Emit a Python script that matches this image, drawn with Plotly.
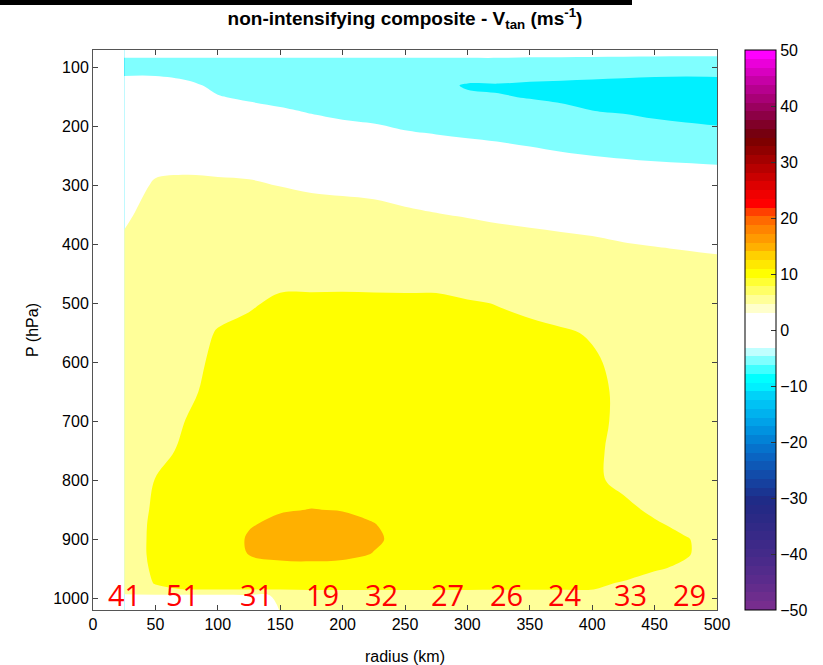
import plotly.graph_objects as go

# Radial grid (km) and pressure levels (hPa) of the composite
radius_km = [25, 50, 75, 100, 125, 150, 175, 200, 225, 250,
             275, 300, 325, 350, 375, 400, 425, 450, 475, 500]
pressure_hpa = [70, 90, 110, 130, 150, 175, 200, 225, 250, 275, 300,
                350, 400, 450, 500, 550, 600, 650, 700, 750, 800,
                850, 875, 900, 925, 950, 975, 985, 995, 1020]

# Tangential wind (m/s), one row per pressure level, one column per radius
vtan = [
    [2, 2, 2, 2, 2, 2, 2, 2, 2, 2, 2, 2, 2, 2, 2, 2, 2, 2, 2, 2],
    [-1, -1, -1, -1, -1, -1, -1, -1, -1, -1, -1, -1, -1, -1.2, -1.3, -1.4, -1.5, -1.6, -1.7, -1.8],
    [-0.6, -0.5, -1, -1.5, -1.8, -2, -2, -2, -2.2, -2.3, -2.5, -3, -3.3, -3.6, -3.8, -4, -4.2, -4.4, -4.5, -4.3],
    [2.4, 2, 0.8, -0.8, -1.5, -2, -2.3, -2.5, -2.7, -3, -3.8, -5.4, -5.3, -5.6, -5.8, -6, -6.2, -6.4, -6.6, -6.8],
    [2.6, 2.5, 2.2, 0.2, -0.5, -1.2, -1.8, -2.2, -2.5, -2.9, -3.5, -4.3, -4.85, -5.1, -5.5, -5.9, -6.2, -6.5, -6.7, -6.9],
    [2.8, 3, 3, 1.8, 1.2, 0.6, -0.2, -0.8, -1.5, -2.1, -2.6, -3, -3.5, -4.2, -4.3, -4.9, -5.2, -5.7, -6, -6.3],
    [3, 3.4, 3.5, 2.8, 2.5, 2, 1.3, 0.7, 0.4, -0.4, -1, -1.5, -1.8, -2.3, -2.7, -3.1, -3.5, -4.2, -4.6, -4.9],
    [3.2, 3.8, 4, 3.6, 3.4, 3, 2.5, 2, 1.7, 1.2, 0.9, 0.4, -0.05, -0.6, -1.2, -1.6, -1.9, -2.2, -2.5, -2.7],
    [3.4, 4.2, 4.4, 4.2, 4.1, 3.8, 3.4, 3, 2.8, 2.4, 2.2, 1.8, 1.5, 1.1, 0.5, 0.05, -0.3, -0.6, -0.8, -1],
    [3.6, 4.7, 4.85, 4.75, 4.6, 4.4, 4, 3.8, 3.6, 3.3, 3.1, 2.8, 2.6, 2.3, 2, 1.7, 1.4, 1.1, 0.9, 0.7],
    [3.8, 5.3, 5.4, 5.35, 5.3, 4.95, 4.6, 4.5, 4.3, 4, 3.8, 3.5, 3.3, 3.1, 2.9, 2.7, 2.5, 2.3, 2.1, 1.9],
    [4.5, 6.2, 6.5, 6.8, 7, 6.8, 6.2, 5.9, 5.8, 5.4, 5.1, 4.85, 4.6, 4.4, 4.2, 4, 3.8, 3.6, 3.4, 3.2],
    [5.5, 7, 7.4, 7.8, 8.2, 8.2, 7.8, 7.5, 7.4, 7.1, 6.8, 6.4, 6, 5.8, 5.6, 5.4, 5.1, 4.9, 4.7, 4.5],
    [6.5, 7.5, 8, 8.6, 9, 9.3, 9.2, 9.1, 9, 8.9, 8.9, 8.1, 7.6, 7.4, 7.2, 7, 6.7, 6.4, 6.2, 6],
    [7, 8, 8.6, 9.3, 9.75, 10.4, 10.5, 10.6, 10.6, 10.6, 10.6, 10.3, 9.9, 9.4, 8.8, 8.5, 8, 7.6, 7.3, 7],
    [7.5, 8.4, 9, 10.15, 10.6, 11.2, 11.4, 11.5, 11.5, 11.4, 11.2, 11, 10.8, 10.6, 10.3, 9.8, 8.9, 8.3, 8, 7.6],
    [7.8, 8.7, 9.4, 10.4, 11, 11.6, 11.9, 12, 12, 11.8, 11.6, 11.3, 11.1, 11, 10.8, 10.3, 9.4, 8.7, 8.3, 7.9],
    [8, 9, 9.7, 10.5, 11.3, 12, 12.3, 12.4, 12.3, 12, 11.8, 11.5, 11.3, 11.1, 10.9, 10.5, 9.6, 8.9, 8.4, 8],
    [8.2, 9.3, 10.05, 10.8, 11.6, 12.3, 12.6, 12.7, 12.5, 12.2, 11.9, 11.6, 11.4, 11.1, 10.9, 10.6, 9.5, 8.9, 8.4, 8],
    [8.4, 9.6, 10.25, 11.2, 12, 12.7, 13, 13, 12.8, 12.4, 12, 11.6, 11.3, 11, 10.7, 10.4, 9.4, 8.8, 8.3, 7.9],
    [8.6, 10.05, 10.8, 11.7, 12.8, 13.5, 13.8, 13.7, 13.4, 12.9, 12.3, 11.8, 11.4, 11, 10.6, 10.3, 9.6, 9, 8.5, 8.1],
    [8.8, 10.3, 11.3, 12.3, 14, 14.8, 15.05, 14.9, 14.4, 13.6, 12.8, 12.2, 11.7, 11.2, 10.8, 10.5, 10.4, 9.7, 9, 8.5],
    [8.9, 10.4, 11.6, 12.8, 14.8, 15.6, 16, 15.8, 15.1, 14, 13.1, 12.4, 11.9, 11.3, 10.9, 10.6, 10.7, 10.2, 9.6, 9],
    [9.0, 10.4, 11.8, 13.2, 15.3, 16.3, 16.6, 16.4, 15.4, 14.2, 13.2, 12.5, 12, 11.4, 11, 10.7, 10.9, 10.5, 10.1, 9.4],
    [9.0, 10.4, 11.8, 13.2, 15.1, 15.8, 16, 15.8, 14.9, 14, 13, 12.3, 11.8, 11.3, 10.9, 10.6, 10.8, 10.4, 10.1, 9.5],
    [8.9, 10.3, 11.6, 12.8, 13.8, 14, 14, 13.8, 13.4, 13, 12.4, 11.8, 11.4, 11, 10.7, 10.4, 10.5, 10.1, 9.8, 9.3],
    [8.5, 10.1, 10.8, 11.8, 12, 12, 12, 11.8, 11.6, 11.5, 11.3, 11, 10.8, 10.6, 10.4, 10.2, 9.9, 9.5, 9.2, 8.8],
    [7.5, 9.5, 10.1, 10.1, 10.2, 10.2, 10.3, 10.3, 10.3, 10.3, 10.3, 10.3, 10.2, 10.2, 10.15, 10.05, 9.5, 9, 8.8, 8.5],
    [4.5, 4.5, 4.5, 4.6, 4.8, 5.1, 7, 7, 7, 7, 7, 7, 7, 7, 7, 7, 7, 7, 7, 7],
    [2, 2, 2, 2, 2.2, 5.1, 6.5, 6.5, 6.5, 6.5, 6.5, 6.5, 6.5, 6.5, 6.5, 6.5, 6.5, 6.5, 6.5, 6.5],
]

# Number of cases in each radial bin, printed along the bottom
count_radius_km = [25, 72, 131, 184, 231, 284, 331, 378, 431, 478]
case_counts = [41, 51, 31, 19, 32, 27, 26, 24, 33, 29]
count_label_hpa = 994

# Contour levels and colour range
level_min, level_max, level_step = -50, 50, 5
x_ticks = [0, 50, 100, 150, 200, 250, 300, 350, 400, 450, 500]
y_ticks = [100, 200, 300, 400, 500, 600, 700, 800, 900, 1000]
cbar_ticks = [-50, -40, -30, -20, -10, 0, 10, 20, 30, 40, 50]

# 64-entry colour map, from -50 (bottom) to +50 (top)
palette = [
    "#772D8E", "#6D2D8D", "#632C8C", "#5A2B8C", "#522B8B", "#4A2A8A", "#432A89", "#3D2988",
    "#372987", "#312986", "#2B2985", "#252985", "#1F2B87", "#1A3592", "#16409E", "#124CAA",
    "#0E58B6", "#0A64C2", "#0672CC", "#0282D6", "#0092E0", "#00A2E8", "#00B2EE", "#00C2F4",
    "#00D2F8", "#00F0FF", "#00FFFF", "#40FFFF", "#80FFFF", "#C0FFFF", "#FFFFFF", "#FFFFFF",
    "#FFFFFF", "#FFFFFF", "#FFFFCC", "#FFFF99", "#FFFF66", "#FFFF33", "#FFFF00", "#FFE800",
    "#FFD000", "#FFB000", "#FF9A00", "#FF8400", "#FF6A00", "#FF4000", "#FF0000", "#F00000",
    "#DD0000", "#CA0000", "#B70000", "#A40000", "#900000", "#7E0000", "#760010", "#800028",
    "#8C0045", "#9A005E", "#A80076", "#B6008E", "#C600A6", "#D800C0", "#EA00DA", "#FF00FF",
]
n_colors = len(palette)
span = level_max - level_min

# Each filled band [L, L+step) takes the colour-map entry at its lower level L
n_levels = (level_max - level_min) // level_step + 1
n_bands = n_levels + 1
fill_scale = []
for j in range(n_bands):
    lower = level_min + level_step * (j - 1)
    idx = int((lower - level_min) * n_colors / span) if lower >= level_min else 0
    idx = min(max(idx, 0), n_colors - 1)
    fill_scale.append([j / (n_bands - 1), palette[idx]])

# Stepped scale for the colour bar (one block per colour-map entry)
bar_scale = []
for k, c in enumerate(palette):
    bar_scale.append([k / n_colors, c])
    bar_scale.append([(k + 1) / n_colors, c])

tick_font = dict(family="Liberation Sans", size=16, color="black")

fig = go.Figure()

fig.add_trace(go.Contour(
    x=radius_km, y=pressure_hpa, z=vtan,
    autocontour=False,
    contours=dict(start=level_min, end=level_max, size=level_step,
                  coloring="fill", showlines=False),
    line=dict(width=0),
    colorscale=fill_scale,
    showscale=False,
    hoverinfo="skip",
))

# Colour bar carrier (marker kept outside the visible pressure range)
fig.add_trace(go.Scatter(
    x=[250], y=[-500], mode="markers",
    marker=dict(
        color=[0], cmin=level_min, cmax=level_max, colorscale=bar_scale,
        opacity=0, showscale=True,
        colorbar=dict(
            x=(745 - 93) / 624, xanchor="left", xpad=0,
            y=0.5, yanchor="middle", len=1, ypad=0,
            thickness=31, thicknessmode="pixels",
            outlinecolor="black", outlinewidth=1,
            tickvals=cbar_ticks, ticks="inside", ticklen=5,
            tickcolor="#333333", tickfont=tick_font,
        ),
    ),
    hoverinfo="skip", showlegend=False,
))

for r, n in zip(count_radius_km, case_counts):
    fig.add_annotation(
        x=r, y=count_label_hpa, xref="x", yref="y",
        text=str(n), showarrow=False,
        font=dict(family="Open Sans", size=29, color="#FF0000"),
        xanchor="center", yanchor="middle",
    )

# Dark rule across the very top of the page
fig.add_shape(
    type="rect", xref="paper", yref="paper",
    x0=-93 / 624, x1=(632 - 93) / 624, y0=(610 - 5) / 560, y1=(610 + 2) / 560,
    fillcolor="black", line=dict(width=0),
)

fig.update_layout(
    width=823, height=665,
    margin=dict(l=93, r=106, t=50, b=55, autoexpand=False),
    paper_bgcolor="white", plot_bgcolor="white",
    title=dict(
        text="non-intensifying composite - V<sub>tan</sub> (ms<sup>-1</sup>)",
        x=405 / 823, xanchor="center", xref="container",
        y=1 - 18 / 665, yanchor="middle", yref="container",
        font=dict(family="Liberation Sans", size=19, color="black", weight="bold"),
    ),
    xaxis=dict(
        range=[0, 500], tickvals=x_ticks, ticks="inside", ticklen=5,
        tickcolor="#444444", showline=True, linecolor="#555555", linewidth=1,
        mirror="ticks", showgrid=False, zeroline=False, tickfont=tick_font,
        automargin=False,
        title=dict(text="radius (km)", font=tick_font, standoff=18),
    ),
    yaxis=dict(
        range=[1020, 70], tickvals=y_ticks, ticks="inside", ticklen=5,
        tickcolor="#444444", showline=True, linecolor="#555555", linewidth=1,
        mirror="ticks", showgrid=False, zeroline=False, tickfont=tick_font,
        automargin=False,
        title=dict(text="P (hPa)", font=tick_font, standoff=10),
    ),
    showlegend=False,
)

fig.write_html("out.html")
